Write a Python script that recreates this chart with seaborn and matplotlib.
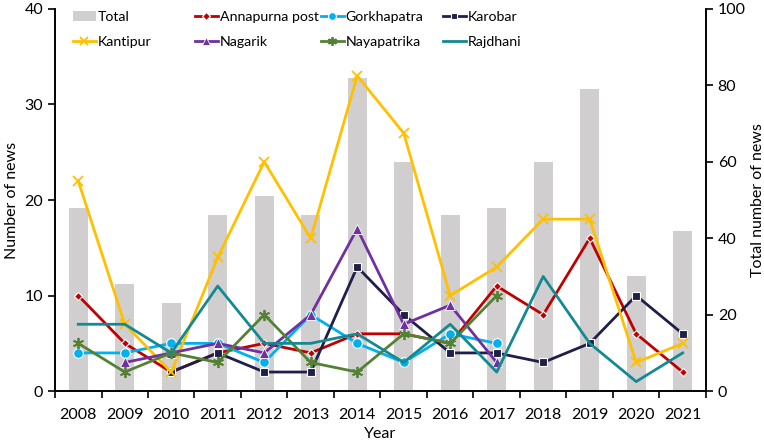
import numpy as np
import pandas as pd
import matplotlib
matplotlib.use("Agg")
import matplotlib.pyplot as plt
import seaborn as sns
from matplotlib.patches import Patch
from matplotlib.lines import Line2D

# Data
years = list(range(2008, 2022))
total = [48, 28, 23, 46, 51, 46, 82, 60, 46, 48, 60, 79, 30, 42]

annapurna = [10, 5, 2, 4, 5, 4, 6, 6, 5, 11, 8, 16, 6, 2]
gorkhapatra = [4, 4, 5, 5, 3, 8, 5, 3, 6, 5, None, None, None, None]
karobar = [None, None, 2, 4, 2, 2, 13, 8, 4, 4, 3, 5, 10, 6]
kantipur = [22, 7, 2, 14, 24, 16, 33, 27, 10, 13, 18, 18, 3, 5]
nagarik = [None, 3, 4, 5, 4, 8, 17, 7, 9, 3, None, None, None, None]
nayapatrika = [5, 2, 4, 3, 8, 3, 2, 6, 5, 10, None, None, None, None]
rajdhani = [7, 7, 4, 11, 5, 5, 6, 3, 7, 2, 12, 5, 1, 4]

series = {
    "Annapurna post": annapurna,
    "Gorkhapatra": gorkhapatra,
    "Karobar": karobar,
    "Kantipur": kantipur,
    "Nagarik": nagarik,
    "Nayapatrika": nayapatrika,
    "Rajdhani": rajdhani,
}

styles = {
    "Annapurna post": dict(color="#C00000", marker="D", ms=4.5, mec="white", mew=0.8),
    "Gorkhapatra": dict(color="#00B0F0", marker="o", ms=7, mec="white", mew=0.8),
    "Karobar": dict(color="#1F1F4B", marker="s", ms=6, mec="white", mew=0.8),
    "Kantipur": dict(color="#FFC000", marker="x", ms=7, mec="#FFC000", mew=1.3),
    "Nagarik": dict(color="#7030A0", marker="^", ms=7, mec="white", mew=0.6),
    "Nayapatrika": dict(color="#548235", marker=(6, 2, 0), ms=8, mec="#548235", mew=1.3),
    "Rajdhani": dict(color="#138A92", marker="", ms=0, mec="#138A92", mew=0),
}

plt.rcParams["font.family"] = ["Lato", "DejaVu Sans"]
plt.rcParams["font.size"] = 11.5

W, H = 764, 446
fig, ax = plt.subplots(figsize=(W / 100, H / 100), dpi=100)
fig.subplots_adjust(left=0.072, right=0.924, bottom=0.123, top=0.98)
ax2 = ax.twinx()

# bars for the totals on the right axis
df_total = pd.DataFrame({"Year": years, "Total": total})
sns.barplot(data=df_total, x="Year", y="Total", ax=ax2, native_scale=True,
            color="#D0CECE", width=0.41, saturation=1, edgecolor="none")
ax2.set_ylim(0, 100)
ax2.set_yticks(range(0, 101, 20))
ax2.set_ylabel("Total number of news")

# lines on the left axis, drawn above the bars
ax.set_zorder(ax2.get_zorder() + 1)
ax.patch.set_visible(False)

for name, vals in series.items():
    d = pd.DataFrame({"Year": years, "News": np.array(vals, dtype=float)}).dropna()
    st = styles[name]
    sns.lineplot(data=d, x="Year", y="News", ax=ax, color=st["color"], lw=2,
                 marker=st["marker"] if st["marker"] else None,
                 markersize=st["ms"], markeredgecolor=st["mec"],
                 markeredgewidth=st["mew"])

ax.set_ylim(0, 40)
ax.set_yticks(range(0, 41, 10))
ax.set_xlim(2007.5, 2021.5)
ax.set_xticks(years)
ax.set_xticks(np.arange(2007.5, 2022, 1), minor=True)
ax.tick_params(axis="x", which="major", length=0, pad=12)
ax.tick_params(axis="x", which="minor", length=5, width=1.2, direction="out")
ax.tick_params(axis="y", length=5, width=1.2)
ax2.tick_params(axis="y", length=5, width=1.2)
ax.set_xlabel("Year", labelpad=4)
ax.set_ylabel("Number of news")

for a in (ax, ax2):
    a.spines["top"].set_visible(False)
    for s in ("left", "right", "bottom"):
        a.spines[s].set_linewidth(1.2)

# legend: four equal-width columns, two rows each (like the spreadsheet legend)
def handle(name):
    st = styles[name]
    return Line2D([], [], color=st["color"], lw=2,
                  marker=st["marker"] if st["marker"] else None,
                  markersize=st["ms"] * 0.8, markeredgecolor=st["mec"],
                  markeredgewidth=st["mew"])

columns = [
    [("Total", Patch(facecolor="#D0CECE", edgecolor="none")), ("Kantipur", handle("Kantipur"))],
    [("Annapurna post", handle("Annapurna post")), ("Nagarik", handle("Nagarik"))],
    [("Gorkhapatra", handle("Gorkhapatra")), ("Nayapatrika", handle("Nayapatrika"))],
    [("Karobar", handle("Karobar")), ("Rajdhani", handle("Rajdhani"))],
]
col_x = [73, 195, 321, 443]
for cx, col in zip(col_x, columns):
    fig.legend([h for _, h in col], [l for l, _ in col], frameon=False,
               loc="upper left", bbox_to_anchor=(cx / W, 1 - 11 / H),
               bbox_transform=fig.transFigure, borderpad=0, borderaxespad=0,
               handlelength=1.6, handletextpad=0.15, labelspacing=0.95,
               fontsize=10.2)

fig.savefig("out.png", dpi=100)
